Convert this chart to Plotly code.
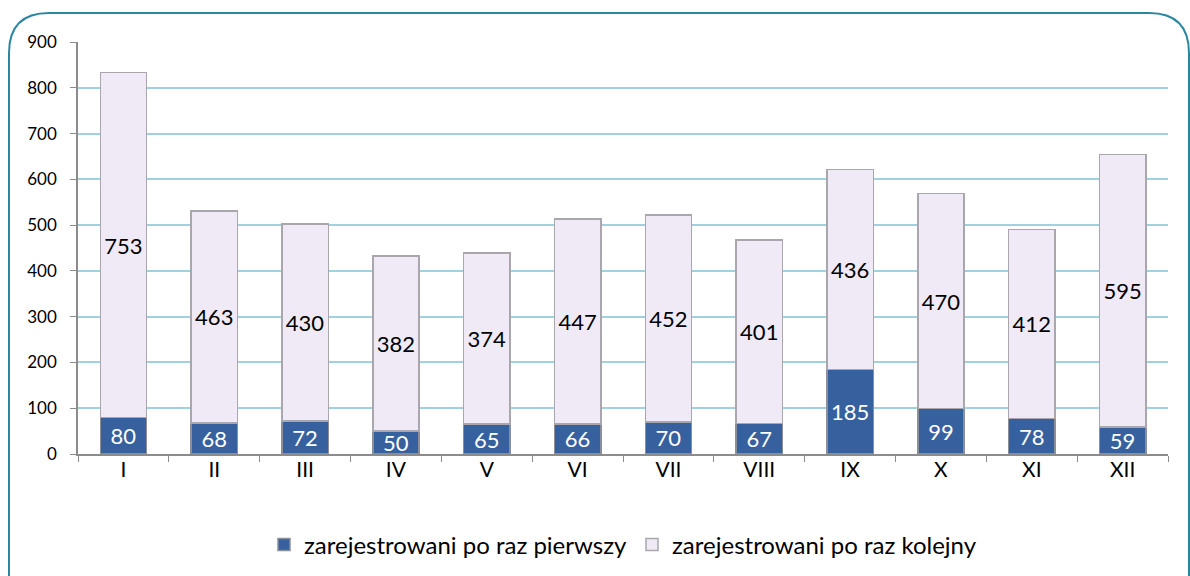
import plotly.graph_objects as go

months = ["I", "II", "III", "IV", "V", "VI", "VII", "VIII", "IX", "X", "XI", "XII"]
first_time = [80, 68, 72, 50, 65, 66, 70, 67, 185, 99, 78, 59]
next_time = [753, 463, 430, 382, 374, 447, 452, 401, 436, 470, 412, 595]
y_ticks = [0, 100, 200, 300, 400, 500, 600, 700, 800, 900]

W, H = 1190, 576
L, R, T, B = 78, 22, 42, 122
pw, ph = W - L - R, H - T - B

def px(x):
    return (x - L) / pw

def py(y):
    return (H - B - y) / ph

FONT = "Lato, 'Open Sans', sans-serif"

fig = go.Figure()
fig.add_trace(go.Bar(
    x=months, y=first_time, name="zarejestrowani po raz pierwszy",
    marker=dict(color="#37609f", line=dict(color="#8a8f99", width=1.5)),
    text=first_time, textposition="inside", insidetextanchor="middle",
    constraintext="none", textangle=0,
    textfont=dict(color="white", size=22, family=FONT),
))
fig.add_trace(go.Bar(
    x=months, y=next_time, name="zarejestrowani po raz kolejny",
    marker=dict(color="#efeaf5", line=dict(color="#a9a6ae", width=1.5)),
    text=next_time, textposition="inside", insidetextanchor="middle",
    constraintext="none", textangle=0,
    textfont=dict(color="black", size=22, family=FONT),
))

# rounded border of the chart area
x0, x1, y0, y1, r = 9, 1189, 13, 590, 40
path = (
    f"M {px(x0)},{py(y0 + r)} "
    f"Q {px(x0)},{py(y0)} {px(x0 + r)},{py(y0)} "
    f"L {px(x1 - r)},{py(y0)} "
    f"Q {px(x1)},{py(y0)} {px(x1)},{py(y0 + r)} "
    f"L {px(x1)},{py(y1)} L {px(x0)},{py(y1)} Z"
)
fig.add_shape(type="path", path=path, xref="paper", yref="paper",
              line=dict(color="#2b86a0", width=2), layer="below")

fig.update_layout(
    width=W, height=H,
    margin=dict(l=L, r=R, t=T, b=B, autoexpand=False),
    barmode="stack", bargap=0.49,
    plot_bgcolor="white", paper_bgcolor="white",
    font=dict(family=FONT, color="black"),
    showlegend=True,
    legend=dict(orientation="h", x=0.5, xanchor="center", y=py(545), yanchor="middle",
                font=dict(size=24, family=FONT), traceorder="normal",
                itemwidth=30, tracegroupgap=0),
    xaxis=dict(
        type="category", tickson="boundaries", ticks="outside", ticklen=6,
        tickcolor="#8c8c8c", showline=True, linecolor="#8c8c8c", linewidth=1.5,
        tickfont=dict(size=21, family=FONT), showgrid=False,
        ticklabelstandoff=-4,
    ),
    yaxis=dict(
        range=[0, 900], tickvals=y_ticks, ticks="outside", ticklen=6,
        tickcolor="#8c8c8c", showline=True, linecolor="#8c8c8c", linewidth=1.5,
        gridcolor="#9fd2de", gridwidth=1.5, tickfont=dict(size=17, family=FONT),
        zeroline=False, ticklabelstandoff=10,
    ),
)

fig.write_html("out.html", config={"displayModeBar": False},
               post_script="document.body.style.margin='0';document.body.style.overflow='hidden';")
